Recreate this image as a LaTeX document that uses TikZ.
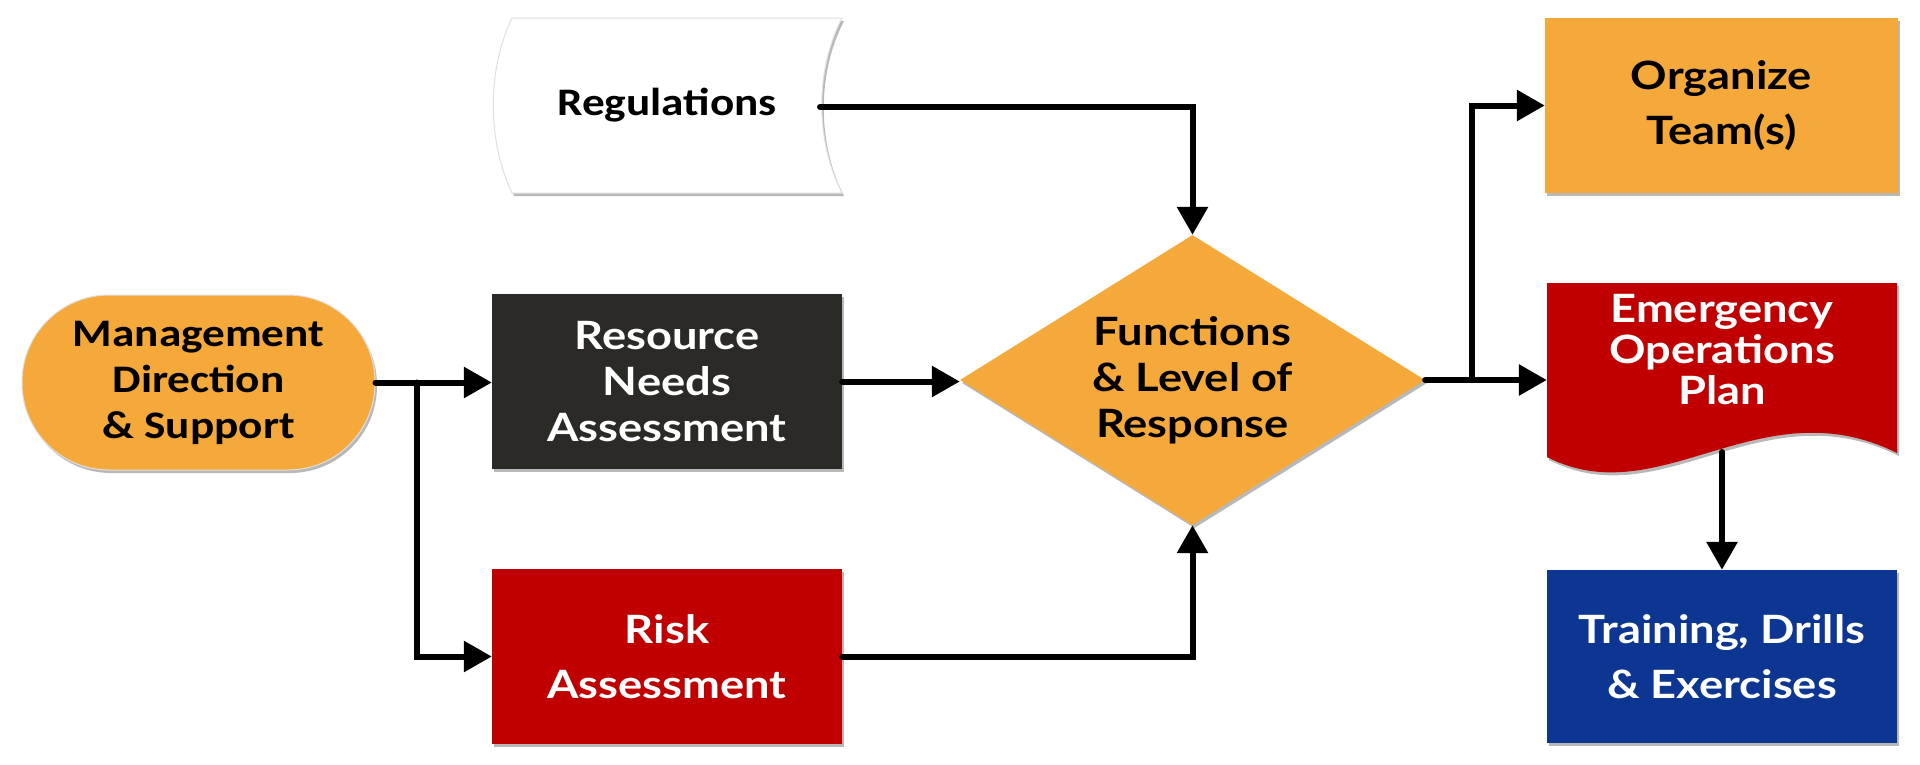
\documentclass[tikz,border=0pt]{standalone}
\usepackage{fontspec}
\usetikzlibrary{shapes.geometric,arrows.meta,shadows}
\newfontfamily\latofont[FakeStretch=1.16]{Lato}
\newfontfamily\carlfont[FakeStretch=1.16]{Carlito}
\definecolor{eorange}{HTML}{F4A93A}
\definecolor{edark}{HTML}{2B2A27}
\definecolor{ered}{HTML}{C00000}
\definecolor{eblue}{HTML}{0D3592}
\begin{document}
\begin{tikzpicture}[x=1pt,y=-1pt,
  shade/.style={drop shadow={shadow xshift=2pt,shadow yshift=-3pt,opacity=0.28,fill=black}},
  box/.style={rectangle, minimum width=350pt, minimum height=175pt, inner sep=0pt, align=center, shade},
  latotext/.style={font=\latofont\bfseries\fontsize{39}{46}\selectfont},
  latowide/.style={font=\latofont\bfseries\fontsize{39}{55}\selectfont},
  carltext/.style={font=\carlfont\bfseries\fontsize{39}{46}\selectfont},
  conn/.style={line width=6pt, line cap=round, -{Triangle[length=28pt,width=30pt]}}
]
\useasboundingbox (0,0) rectangle (1920,764);
\fill[white] (0,0) rectangle (1920,764);

% Regulations (custom shape)
\path[fill=white, draw=black!12, line width=1pt, shade]
  (512,18) -- (842,18) .. controls (815,70) and (815,140) .. (842,193)
  -- (512,193) .. controls (487,140) and (487,70) .. (512,18) -- cycle;
\node[carltext, text=black] (reg) at (667,105) {Regulations};
\coordinate (regout) at (820,107);

% Management
\node[rectangle, rounded corners=87pt, minimum width=353pt, minimum height=175pt,
      inner sep=0pt, fill=eorange, draw=black!12, line width=1pt, shade, align=center,
      carltext, text=black] (mgmt) at (198.5,382.5) {Management\\Direction\\\& Support};

% Resource Needs Assessment
\node[box, fill=edark, latotext, text=white] (res) at (667,381.5) {Resource\\Needs\\Assessment};

% Risk Assessment
\node[box, fill=ered, latowide, text=white] (risk) at (667,656.5) {Risk\\Assessment};

% Diamond
\node[diamond, aspect=1.603, minimum width=465pt, minimum height=290pt, inner sep=0pt,
      fill=eorange, shade, align=center, latotext, text=black] (dia) at (1192.5,380)
      {Functions\\\& Level of\\Response};

% Organize Team(s)
\node[rectangle, minimum width=353pt, minimum height=175pt, inner sep=0pt, align=center,
      fill=eorange, shade, latowide, text=black] (org) at (1721.5,105.5) {Organize\\Team(s)};

% Emergency Operations Plan (document shape)
\path[fill=ered, shade]
  (1547,283) -- (1897,283) -- (1897,453)
  .. controls (1760,385) and (1660,515) .. (1547,457) -- cycle;
\node[rectangle, minimum width=350pt, minimum height=174pt, inner sep=0pt] (eop) at (1722,370) {};
\node[latotext, text=white, align=center, font=\latofont\bfseries\fontsize{39}{41}\selectfont]
      (eoptext) at (1722,350) {Emergency\\Operations\\Plan};
\coordinate (eopbot) at (1722,452);

% Training
\node[rectangle, minimum width=350pt, minimum height=173pt, inner sep=0pt, align=center,
      fill=eblue, shade, latowide, text=white] (train) at (1722,656.5) {Training, Drills\\\& Exercises};

% Connectors
\coordinate (b1) at (417,382.5);
\coordinate (b2) at (1472,380);
\draw[conn] (mgmt.east) -- (mgmt.east -| res.west);
\draw[conn] (b1) |- (risk.west);
\draw[conn] (res.east) -- (res.east -| dia.west);
\draw[conn] (regout) -| (dia.north);
\draw[conn] (risk.east) -| (dia.south);
\draw[conn] (dia.east) -- (dia.east -| eop.west);
\draw[conn] (b2) |- (org.west);
\draw[conn] (eopbot) -- (train.north);
\end{tikzpicture}
\end{document}
